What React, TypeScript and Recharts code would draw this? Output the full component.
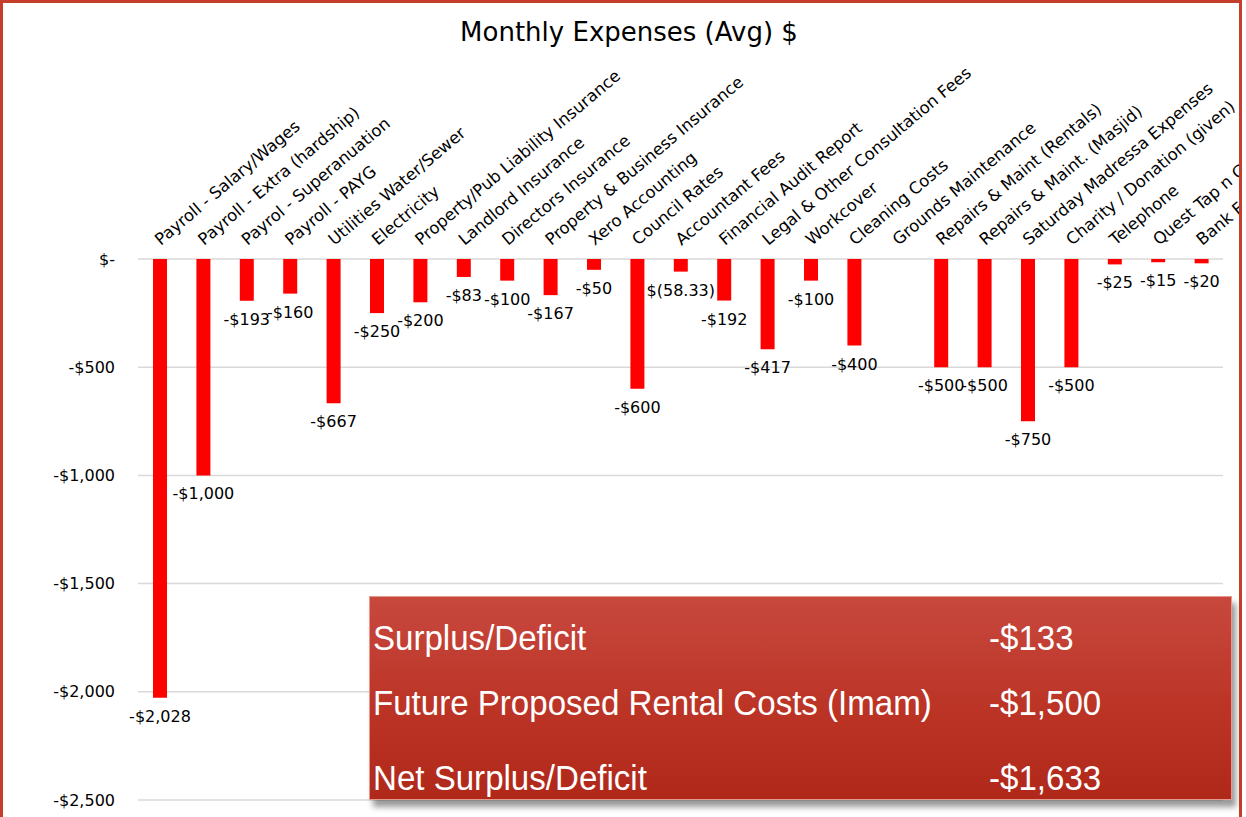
import React from "react";
import { BarChart, Bar, XAxis, YAxis, CartesianGrid, LabelList } from "recharts";

const categories: string[] = [
  "Payroll - Salary/Wages",
  "Payroll - Extra (hardship)",
  "Payrol - Superanuation",
  "Payroll - PAYG",
  "Utilities Water/Sewer",
  "Electricity",
  "Property/Pub Liability Insurance",
  "Landlord Insurance",
  "Directors Insurance",
  "Property & Business Insurance",
  "Xero Accounting",
  "Council Rates",
  "Accountant Fees",
  "Financial Audit Report",
  "Legal & Other Consultation Fees",
  "Workcover",
  "Cleaning Costs",
  "Grounds Maintenance",
  "Repairs & Maint (Rentals)",
  "Repairs & Maint. (Masjid)",
  "Saturday Madressa Expenses",
  "Charity / Donation (given)",
  "Telephone",
  "Quest Tap n Go Fees",
  "Bank Fees",
];

const expenses: (number | null)[] = [
  -2028, -1000, -193, -160, -667, -250, -200, -83, -100, -167, -50, -600, -58.33,
  -192, -417, -100, -400, null, -500, -500, -750, -500, -25, -15, -20,
];

const yTicks: number[] = [0, -500, -1000, -1500, -2000, -2500];

const summaryLabels: string[] = [
  "Surplus/Deficit",
  "Future Proposed Rental Costs (Imam)",
  "Net Surplus/Deficit",
];
const summaryValues: string[] = ["-$133", "-$1,500", "-$1,633"];

const chartTitle = "Monthly Expenses (Avg) $";

const data = categories.map((name, i) => ({ name, value: expenses[i] }));

const FONT = "'DejaVu Sans', Verdana, sans-serif";

const fmtAxis = (v: number) =>
  v === 0 ? "$-" : `-$${Math.abs(v).toLocaleString("en-US")}`;

const fmtLabel = (v: number) =>
  Number.isInteger(v)
    ? `-$${Math.abs(v).toLocaleString("en-US")}`
    : `$(${Math.abs(v).toFixed(2)})`;

const CategoryTick = (props: any) => {
  const { x, y, payload } = props;
  const tx = x + 1;
  return (
    <text
      x={tx}
      y={y}
      transform={`rotate(-40 ${tx} ${y})`}
      textAnchor="start"
      fontFamily={FONT}
      fontSize={16.5}
      fill="#000"
    >
      {payload.value}
    </text>
  );
};

const ValueLabel = (props: any) => {
  const { x, y, width, height, value } = props;
  if (value === null || value === undefined) return null;
  const bottom = Math.max(y, y + height);
  return (
    <text
      x={x + width / 2}
      y={bottom + 24}
      textAnchor="middle"
      fontFamily={FONT}
      fontSize={16}
      fill="#000"
    >
      {fmtLabel(value)}
    </text>
  );
};

const rowTops = [620, 685, 760];

export default function App() {
  return (
    <div
      style={{
        position: "absolute",
        left: 0,
        top: 0,
        width: 1246,
        height: 817,
        background: "#fff",
        overflow: "hidden",
      }}
    >
      <div
        style={{
          position: "absolute",
          left: 0,
          top: 0,
          width: 1242,
          height: 840,
          borderTop: "3px solid #c63d2b",
          borderLeft: "3px solid #c63d2b",
          borderRight: "3px solid #c63d2b",
          boxSizing: "border-box",
        }}
      />
      <div style={{ position: "absolute", left: 0, top: 0 }}>
        <BarChart
          width={1239}
          height={817}
          data={data}
          margin={{ top: 249, right: 16, bottom: 17, left: 0 }}
        >
          <CartesianGrid horizontal vertical={false} stroke="#d9d9d9" strokeWidth={1.5} />
          <XAxis
            dataKey="name"
            orientation="top"
            height={10}
            interval={0}
            axisLine={false}
            tickLine={false}
            tickSize={0}
            tickMargin={13}
            tick={<CategoryTick />}
          />
          <YAxis
            type="number"
            domain={[-2500, 0]}
            ticks={yTicks}
            width={138}
            axisLine={false}
            tickLine={false}
            tickSize={0}
            tickMargin={23}
            tickFormatter={fmtAxis}
            tick={{ fontFamily: FONT, fontSize: 16, fill: "#000" }}
          />
          <Bar dataKey="value" fill="#ff0000" barSize={14} isAnimationActive={false}>
            <LabelList dataKey="value" content={<ValueLabel />} />
          </Bar>
        </BarChart>
      </div>
      <div
        style={{
          position: "absolute",
          left: 0,
          top: 15,
          width: 1258,
          textAlign: "center",
          fontFamily: FONT,
          fontSize: 26,
          lineHeight: "34px",
          color: "#000",
        }}
      >
        {chartTitle}
      </div>
      <div
        style={{
          position: "absolute",
          left: 369,
          top: 596,
          width: 863,
          height: 204,
          boxSizing: "border-box",
          background: "linear-gradient(to bottom, #c8483e 0%, #bb3426 55%, #b0281a 100%)",
          border: "1px solid #e49a8c",
          boxShadow: "4px 7px 6px rgba(0,0,0,0.4)",
        }}
      />
      {summaryLabels.map((label, i) => (
        <React.Fragment key={label}>
          <div
            style={{
              position: "absolute",
              left: 373,
              top: rowTops[i],
              fontFamily: "'Liberation Sans', Arial, sans-serif",
              fontSize: 35,
              lineHeight: "35px",
              color: "#fff",
              whiteSpace: "nowrap",
              transform: "scaleX(0.945)",
              transformOrigin: "left top",
            }}
          >
            {label}
          </div>
          <div
            style={{
              position: "absolute",
              left: 989,
              top: rowTops[i],
              fontFamily: "'Liberation Sans', Arial, sans-serif",
              fontSize: 35,
              lineHeight: "35px",
              color: "#fff",
              whiteSpace: "nowrap",
              transform: "scaleX(0.945)",
              transformOrigin: "left top",
            }}
          >
            {summaryValues[i]}
          </div>
        </React.Fragment>
      ))}
    </div>
  );
}
